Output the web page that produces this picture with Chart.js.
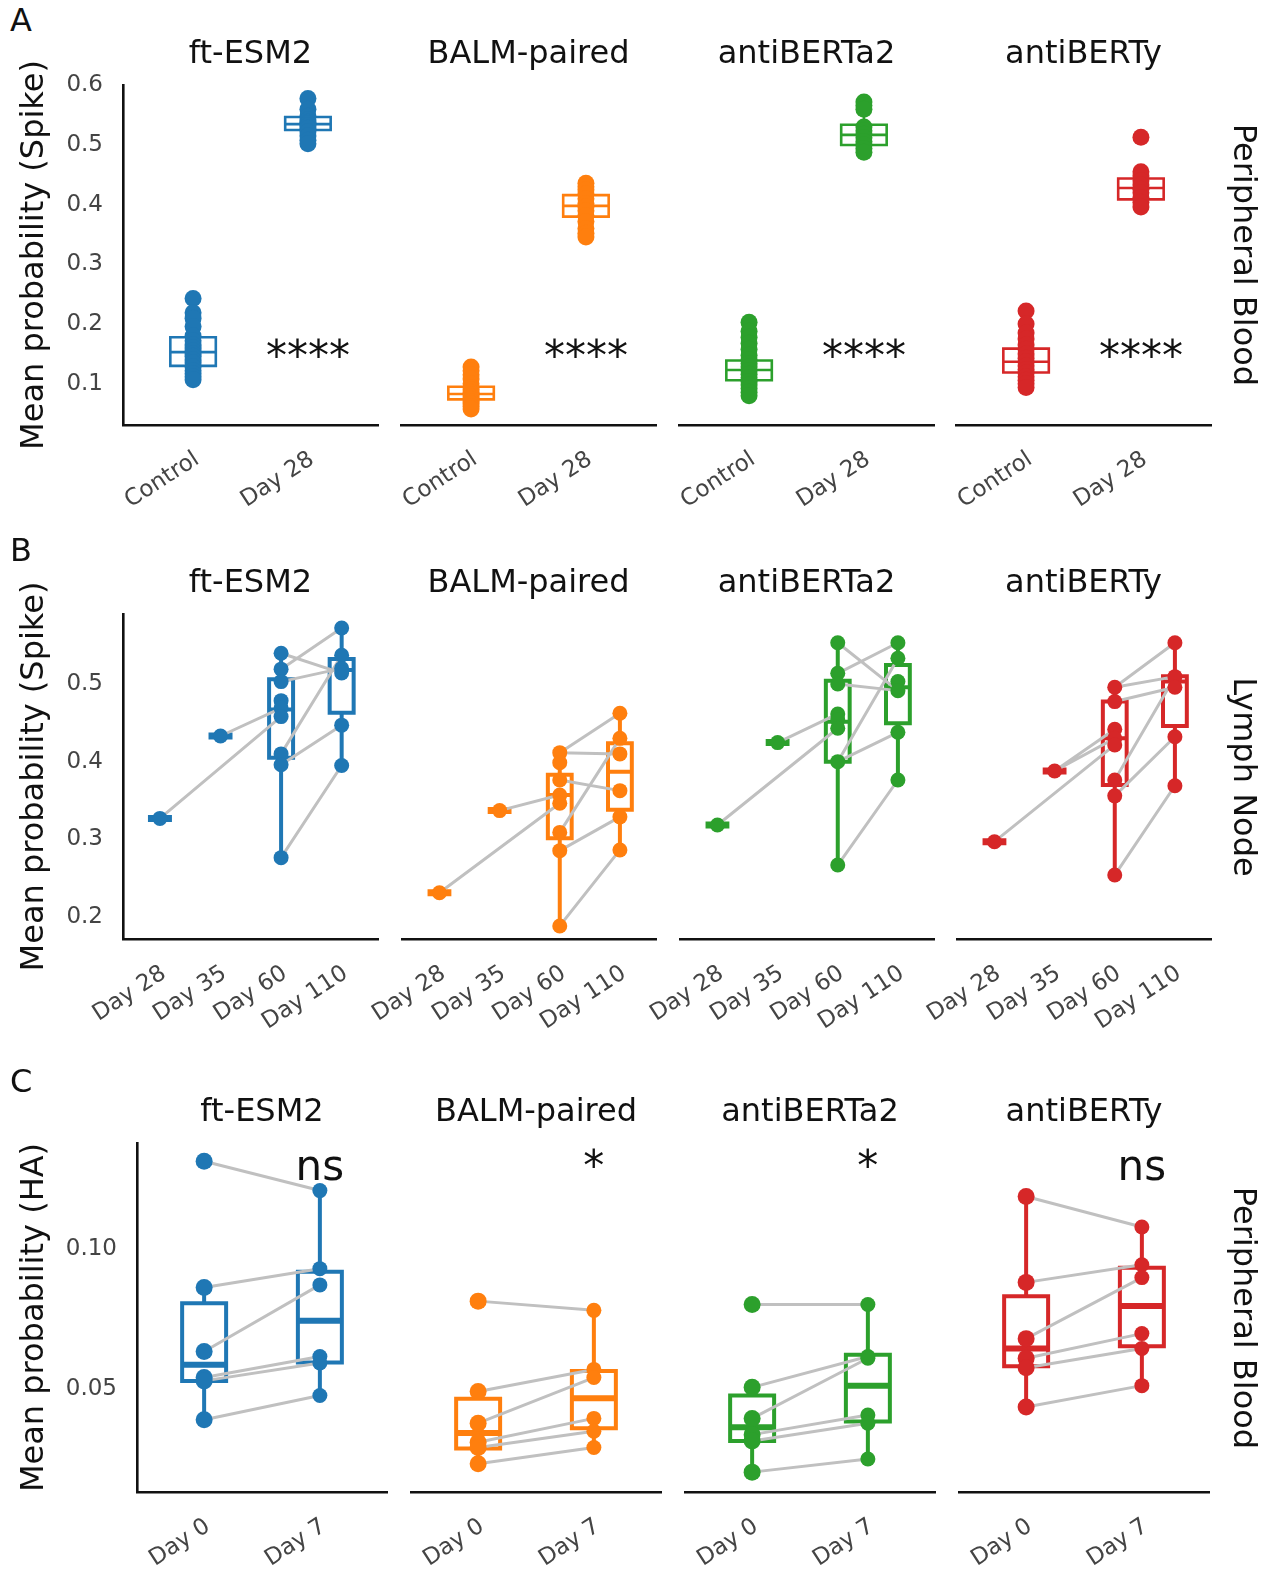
<!DOCTYPE html>
<html>
<head>
<meta charset="utf-8">
<script src="https://cdn.jsdelivr.net/npm/chart.js@4.4.1/dist/chart.umd.min.js"></script>
<style>
html,body{margin:0;padding:0;background:#fff;}
#root{position:relative;width:1277px;height:1570px;overflow:hidden;font-family:"DejaVu Sans","Liberation Sans",sans-serif;}
#root canvas{position:absolute;}
.t{position:absolute;font-size:32px;line-height:32px;color:#111;white-space:nowrap;text-align:center;z-index:5;}
</style>
</head>
<body>
<div id="root"></div>
<script>
// ================= DATA =================
const models = ['ft-ESM2', 'BALM-paired', 'antiBERTa2', 'antiBERTy'];
const modelColors = ['#1f77b4', '#ff7f0e', '#2ca02c', '#d62728'];

const catsA = ['Control', 'Day 28'];
const catsB = ['Day 28', 'Day 35', 'Day 60', 'Day 110'];
const catsC = ['Day 0', 'Day 7'];

const yTicksA = [0.1, 0.2, 0.3, 0.4, 0.5, 0.6];
const yTickLabelsA = ['0.1', '0.2', '0.3', '0.4', '0.5', '0.6'];
const yTicksB = [0.2, 0.3, 0.4, 0.5];
const yTickLabelsB = ['0.2', '0.3', '0.4', '0.5'];
const yTicksC = [0.05, 0.10];
const yTickLabelsC = ['0.05', '0.10'];

const sigA = ['****', '****', '****', '****'];
const sigC = ['ns', '*', '*', 'ns'];

// ---- Panel A: Peripheral Blood (Spike) ----
const A_ftESM2_Control = [0.243, 0.219, 0.210, 0.196, 0.180, 0.172, 0.165, 0.160, 0.155, 0.150, 0.146, 0.140, 0.135, 0.128, 0.122, 0.117, 0.112, 0.107];
const A_ftESM2_Day28 = [0.578, 0.560, 0.548, 0.542, 0.538, 0.535, 0.532, 0.528, 0.522, 0.515, 0.508, 0.502];
const A_BALM_Control = [0.128, 0.122, 0.115, 0.108, 0.100, 0.094, 0.090, 0.086, 0.082, 0.078, 0.074, 0.070, 0.066, 0.062, 0.058];
const A_BALM_Day28 = [0.436, 0.430, 0.425, 0.418, 0.410, 0.402, 0.396, 0.390, 0.382, 0.372, 0.360, 0.352, 0.346];
const A_antiBERTa2_Control = [0.203, 0.188, 0.178, 0.168, 0.158, 0.148, 0.140, 0.134, 0.128, 0.122, 0.116, 0.110, 0.104, 0.098, 0.092, 0.086, 0.080];
const A_antiBERTa2_Day28 = [0.572, 0.566, 0.560, 0.530, 0.524, 0.518, 0.512, 0.506, 0.500, 0.494, 0.488];
const A_antiBERTy_Control = [0.222, 0.200, 0.185, 0.175, 0.165, 0.158, 0.150, 0.143, 0.137, 0.130, 0.124, 0.118, 0.112, 0.106, 0.100, 0.094];
const A_antiBERTy_Day28 = [0.513, 0.455, 0.448, 0.440, 0.433, 0.426, 0.420, 0.412, 0.404, 0.396];
// box stats per category: [whiskerLow, q1, median, q3, whiskerHigh]
const A_ftESM2_box = [[0.107, 0.130, 0.153, 0.178, 0.196], [0.502, 0.525, 0.535, 0.547, 0.560]];
const A_BALM_box = [[0.058, 0.074, 0.083, 0.095, 0.115], [0.346, 0.380, 0.398, 0.416, 0.436]];
const A_antiBERTa2_box = [[0.080, 0.106, 0.123, 0.139, 0.168], [0.488, 0.500, 0.517, 0.534, 0.566]];
const A_antiBERTy_box = [[0.094, 0.119, 0.137, 0.159, 0.200], [0.396, 0.409, 0.428, 0.444, 0.455]];

// ---- Panel B: Lymph Node (Spike) ----
const B_ftESM2_Day28 = [0.327];
const B_ftESM2_Day35 = [0.433];
const B_ftESM2_Day60 = [0.5395, 0.519, 0.503, 0.4785, 0.469, 0.458, 0.410, 0.396, 0.2765];
const B_ftESM2_Day110 = [0.572, 0.537, 0.520, 0.514, 0.447, 0.395];
const B_BALM_Day28 = [0.2314];
const B_BALM_Day35 = [0.337];
const B_BALM_Day60 = [0.4116, 0.3987, 0.3764, 0.357, 0.3465, 0.309, 0.2855, 0.1886];
const B_BALM_Day110 = [0.4623, 0.430, 0.410, 0.3627, 0.329, 0.2864];
const B_antiBERTa2_Day28 = [0.3185];
const B_antiBERTa2_Day35 = [0.4245];
const B_antiBERTa2_Day60 = [0.553, 0.5137, 0.500, 0.4614, 0.4537, 0.443, 0.400, 0.267];
const B_antiBERTa2_Day110 = [0.553, 0.533, 0.503, 0.4914, 0.4378, 0.3764];
const B_antiBERTy_Day28 = [0.297];
const B_antiBERTy_Day35 = [0.388];
const B_antiBERTy_Day60 = [0.4957, 0.4773, 0.4417, 0.430, 0.4215, 0.3764, 0.356, 0.2541];
const B_antiBERTy_Day110 = [0.553, 0.5094, 0.4957, 0.432, 0.369];
const B_ftESM2_box = [[0.327, 0.327, 0.327, 0.327, 0.327], [0.433, 0.433, 0.433, 0.433, 0.433], [0.2765, 0.405, 0.467, 0.506, 0.5395], [0.395, 0.463, 0.518, 0.532, 0.572]];
const B_BALM_box = [[0.2314, 0.2314, 0.2314, 0.2314, 0.2314], [0.337, 0.337, 0.337, 0.337, 0.337], [0.1886, 0.3014, 0.357, 0.383, 0.4116], [0.2864, 0.338, 0.387, 0.4237, 0.4623]];
const B_antiBERTa2_box = [[0.3185, 0.3185, 0.3185, 0.3185, 0.3185], [0.4245, 0.4245, 0.4245, 0.4245, 0.4245], [0.267, 0.400, 0.4515, 0.504, 0.553], [0.3764, 0.4494, 0.4957, 0.5245, 0.553]];
const B_antiBERTy_box = [[0.297, 0.297, 0.297, 0.297, 0.297], [0.388, 0.388, 0.388, 0.388, 0.388], [0.2541, 0.370, 0.430, 0.4773, 0.4957], [0.369, 0.446, 0.503, 0.510, 0.553]];
// paired subject lines: [fromCategory, fromValue, toCategory, toValue]
const B_ftESM2_pairs = [[0, 0.327, 2, 0.458], [1, 0.433, 2, 0.469], [2, 0.519, 3, 0.572], [2, 0.5395, 3, 0.514], [2, 0.503, 3, 0.520], [2, 0.410, 3, 0.537], [2, 0.396, 3, 0.447], [2, 0.2765, 3, 0.395]];
const B_BALM_pairs = [[0, 0.2314, 2, 0.3465], [1, 0.337, 2, 0.357], [2, 0.4116, 3, 0.4623], [2, 0.4116, 3, 0.410], [2, 0.3764, 3, 0.3627], [2, 0.309, 3, 0.430], [2, 0.2855, 3, 0.329], [2, 0.1886, 3, 0.2864]];
const B_antiBERTa2_pairs = [[0, 0.3185, 2, 0.443], [1, 0.4245, 2, 0.4614], [2, 0.553, 3, 0.4914], [2, 0.5137, 3, 0.553], [2, 0.500, 3, 0.4914], [2, 0.400, 3, 0.533], [2, 0.400, 3, 0.4378], [2, 0.267, 3, 0.3764]];
const B_antiBERTy_pairs = [[0, 0.297, 2, 0.4215], [1, 0.388, 2, 0.4417], [1, 0.388, 2, 0.430], [2, 0.4957, 3, 0.553], [2, 0.4957, 3, 0.5094], [2, 0.4773, 3, 0.4957], [2, 0.3764, 3, 0.5094], [2, 0.356, 3, 0.432], [2, 0.2541, 3, 0.369]];

// ---- Panel C: Peripheral Blood (HA) ----
const C_ftESM2_Day0 = [0.1314, 0.0863, 0.0634, 0.0541, 0.0529, 0.0390];
const C_ftESM2_Day7 = [0.1209, 0.0930, 0.0872, 0.0616, 0.0593, 0.0477];
const C_BALM_Day0 = [0.0814, 0.0491, 0.0378, 0.0310, 0.0291, 0.0233];
const C_BALM_Day7 = [0.0781, 0.0570, 0.0541, 0.0395, 0.0349, 0.0291];
const C_antiBERTa2_Day0 = [0.0802, 0.0506, 0.0395, 0.0337, 0.0314, 0.0203];
const C_antiBERTa2_Day7 = [0.0802, 0.0616, 0.0610, 0.0407, 0.0378, 0.0250];
const C_antiBERTy_Day0 = [0.1188, 0.0881, 0.0680, 0.0610, 0.0576, 0.0436];
const C_antiBERTy_Day7 = [0.1079, 0.0944, 0.0898, 0.0698, 0.0645, 0.0512];
const C_ftESM2_box = [[0.0390, 0.0529, 0.0587, 0.0806, 0.0863], [0.0477, 0.0595, 0.0744, 0.0919, 0.1209]];
const C_BALM_box = [[0.0233, 0.0287, 0.0343, 0.0465, 0.0491], [0.0291, 0.0360, 0.0467, 0.0564, 0.0781]];
const C_antiBERTa2_box = [[0.0203, 0.0314, 0.0363, 0.0477, 0.0506], [0.0250, 0.0384, 0.0512, 0.0622, 0.0802]];
const C_antiBERTy_box = [[0.0436, 0.0581, 0.0645, 0.0831, 0.1188], [0.0512, 0.0653, 0.0797, 0.0933, 0.1079]];
const C_ftESM2_pairs = [[0, 0.1314, 1, 0.1209], [0, 0.0863, 1, 0.0930], [0, 0.0634, 1, 0.0872], [0, 0.0541, 1, 0.0616], [0, 0.0529, 1, 0.0593], [0, 0.0390, 1, 0.0477]];
const C_BALM_pairs = [[0, 0.0814, 1, 0.0781], [0, 0.0491, 1, 0.0570], [0, 0.0378, 1, 0.0541], [0, 0.0310, 1, 0.0395], [0, 0.0291, 1, 0.0349], [0, 0.0233, 1, 0.0291]];
const C_antiBERTa2_pairs = [[0, 0.0802, 1, 0.0802], [0, 0.0506, 1, 0.0616], [0, 0.0395, 1, 0.0610], [0, 0.0337, 1, 0.0407], [0, 0.0314, 1, 0.0378], [0, 0.0203, 1, 0.0250]];
const C_antiBERTy_pairs = [[0, 0.1188, 1, 0.1079], [0, 0.0881, 1, 0.0944], [0, 0.0680, 1, 0.0898], [0, 0.0610, 1, 0.0698], [0, 0.0576, 1, 0.0645], [0, 0.0436, 1, 0.0512]];

// ================= LAYOUT / STYLE =================
const FONT = '"DejaVu Sans", "Liberation Sans", sans-serif';
const PAIR_COLOR = '#c0c0c0';
const TITLE_SIZE = 32;
const TICK_SIZE = 23;
const BASE_OFF = 27.07; // baseline offset of a 32px DejaVu line box

const rowDefs = [
  { key: 'A', letter: 'A', letterBase: 31, titleBase: 63, sideLabel: 'Peripheral Blood',
    top: 85, bottom: 425, lefts: [123, 401, 679, 956], width: 255,
    xmin: -0.61, xmax: 1.61, ymin: 0.031, ymax: 0.6005,
    cats: catsA, yTicks: yTicksA, yTickLabels: yTickLabelsA, yTitle: 'Mean probability (Spike)',
    radius: [8.5, 8.5], boxHalf: 0.198, boxLW: 2.6, medLW: 2.6, whLW: 2.6, flatLW: 2.6,
    pts: [[A_ftESM2_Control, A_ftESM2_Day28], [A_BALM_Control, A_BALM_Day28], [A_antiBERTa2_Control, A_antiBERTa2_Day28], [A_antiBERTy_Control, A_antiBERTy_Day28]],
    boxes: [A_ftESM2_box, A_BALM_box, A_antiBERTa2_box, A_antiBERTy_box],
    pairs: [null, null, null, null],
    sig: sigA, sigX: 1, sigY: 0.123 },
  { key: 'B', letter: 'B', letterBase: 561, titleBase: 592, sideLabel: 'Lymph Node',
    top: 614, bottom: 939, lefts: [123, 401, 679, 956], width: 255,
    xmin: -0.61, xmax: 3.6, ymin: 0.1718, ymax: 0.590,
    cats: catsB, yTicks: yTicksB, yTickLabels: yTickLabelsB, yTitle: 'Mean probability (Spike)',
    radius: [7.5, 7.5, 7.5, 7.5], boxHalf: 0.198, boxLW: 4, medLW: 4, whLW: 4, flatLW: 7,
    pts: [[B_ftESM2_Day28, B_ftESM2_Day35, B_ftESM2_Day60, B_ftESM2_Day110],
          [B_BALM_Day28, B_BALM_Day35, B_BALM_Day60, B_BALM_Day110],
          [B_antiBERTa2_Day28, B_antiBERTa2_Day35, B_antiBERTa2_Day60, B_antiBERTa2_Day110],
          [B_antiBERTy_Day28, B_antiBERTy_Day35, B_antiBERTy_Day60, B_antiBERTy_Day110]],
    boxes: [B_ftESM2_box, B_BALM_box, B_antiBERTa2_box, B_antiBERTy_box],
    pairs: [B_ftESM2_pairs, B_BALM_pairs, B_antiBERTa2_pairs, B_antiBERTy_pairs],
    sig: null },
  { key: 'C', letter: 'C', letterBase: 1092, titleBase: 1121, sideLabel: 'Peripheral Blood',
    top: 1143, bottom: 1492, lefts: [137, 411, 685, 959], width: 250,
    xmin: -0.58, xmax: 1.58, ymin: 0.0132, ymax: 0.1379,
    cats: catsC, yTicks: yTicksC, yTickLabels: yTickLabelsC, yTitle: 'Mean probability (HA)',
    radius: [8.5, 7.5], boxHalf: 0.19, boxLW: 4, medLW: 6, whLW: 4, flatLW: 6,
    pts: [[C_ftESM2_Day0, C_ftESM2_Day7], [C_BALM_Day0, C_BALM_Day7], [C_antiBERTa2_Day0, C_antiBERTa2_Day7], [C_antiBERTy_Day0, C_antiBERTy_Day7]],
    boxes: [C_ftESM2_box, C_BALM_box, C_antiBERTa2_box, C_antiBERTy_box],
    pairs: [C_ftESM2_pairs, C_BALM_pairs, C_antiBERTa2_pairs, C_antiBERTy_pairs],
    sig: sigC, sigX: 1, sigY: 0.1246 }
];

const root = document.getElementById('root');

function addText(txt, left, top, width, extraStyle) {
  const d = document.createElement('div');
  d.className = 't';
  d.textContent = txt;
  d.style.left = left + 'px';
  d.style.top = top + 'px';
  if (width != null) d.style.width = width + 'px';
  if (extraStyle) Object.assign(d.style, extraStyle);
  root.appendChild(d);
  return d;
}

const sigPlugin = {
  id: 'sig',
  afterDatasetsDraw(chart, args, opts) {
    if (!opts || !opts.text) return;
    const ctx = chart.ctx;
    const x = chart.scales.x.getPixelForValue(opts.x);
    const y = chart.scales.y.getPixelForValue(opts.y);
    ctx.save();
    ctx.font = opts.size + 'px ' + FONT;
    ctx.fillStyle = '#111';
    ctx.textAlign = 'center';
    ctx.textBaseline = 'alphabetic';
    ctx.fillText(opts.text, x, y);
    ctx.restore();
  }
};

const ML = 60, MR = 15, MT = 40, MB = 125, XH = 117, YTITLE_LEFT = 15.8;

rowDefs.forEach(row => {
  addText(row.letter, 10, row.letterBase - BASE_OFF, null, { textAlign: 'left' });
  addText(row.sideLabel, 1245 - 160, (row.top + row.bottom) / 2 - 16, 320, { transform: 'rotate(90deg)', transformOrigin: '50% 50%' });

  for (let m = 0; m < 4; m++) {
    const first = m === 0;
    const L = row.lefts[m];
    addText(models[m], L, row.titleBase - BASE_OFF, row.width);

    const cLeft = first ? 0 : L - ML;
    const cTop = row.top - MT;
    const cW = (first ? L : ML) + row.width + MR;
    const cH = MT + (row.bottom - row.top) + MB;
    const canvas = document.createElement('canvas');
    canvas.width = cW; canvas.height = cH;
    canvas.style.left = cLeft + 'px'; canvas.style.top = cTop + 'px';
    canvas.style.width = cW + 'px'; canvas.style.height = cH + 'px';
    root.appendChild(canvas);

    const col = modelColors[m];
    const h = row.boxHalf;
    const boxPts = [], whPts = [], medPts = [], flatPts = [];
    row.boxes[m].forEach((b, i) => {
      const [lo, q1, md, q3, hi] = b;
      if (q1 === q3) {
        flatPts.push({ x: i - h, y: md }, { x: i + h, y: md }, { x: i, y: null });
        return;
      }
      boxPts.push({ x: i - h, y: q1 }, { x: i + h, y: q1 }, { x: i + h, y: q3 }, { x: i - h, y: q3 }, { x: i - h, y: q1 }, { x: i, y: null });
      whPts.push({ x: i, y: lo }, { x: i, y: q1 }, { x: i, y: null }, { x: i, y: q3 }, { x: i, y: hi }, { x: i, y: null });
      medPts.push({ x: i - h, y: md }, { x: i + h, y: md }, { x: i, y: null });
    });
    const pairPts = [];
    if (row.pairs[m]) {
      row.pairs[m].forEach(p => {
        pairPts.push({ x: p[0], y: p[1] }, { x: p[2], y: p[3] }, { x: p[2], y: null });
      });
    }
    const dotPts = [];
    row.pts[m].forEach((arr, i) => arr.forEach(v => dotPts.push({ x: i, y: v })));

    const lineBase = { type: 'line', pointRadius: 0, pointHoverRadius: 0, tension: 0, spanGaps: false, fill: false, clip: false };
    const radiusFn = ctx => row.radius[Math.round(ctx.raw ? ctx.raw.x : 0)] || row.radius[0];
    const datasets = [
      Object.assign({}, lineBase, { data: whPts, borderColor: col, borderWidth: row.whLW, borderCapStyle: 'butt', order: 5 }),
      Object.assign({}, lineBase, { data: boxPts, borderColor: col, borderWidth: row.boxLW, borderCapStyle: 'square', borderJoinStyle: 'miter', order: 4 }),
      Object.assign({}, lineBase, { data: medPts, borderColor: col, borderWidth: row.medLW, borderCapStyle: 'butt', order: 3 }),
      Object.assign({}, lineBase, { data: flatPts, borderColor: col, borderWidth: row.flatLW, borderCapStyle: 'butt', order: 2 }),
      Object.assign({}, lineBase, { data: pairPts, borderColor: PAIR_COLOR, borderWidth: 3, borderCapStyle: 'round', order: 1 }),
      { type: 'scatter', data: dotPts, clip: false, order: 0,
        pointRadius: radiusFn, pointHoverRadius: radiusFn,
        pointBackgroundColor: col, pointBorderWidth: 0, pointBorderColor: col }
    ];

    const cats = row.cats;
    const yT = row.yTicks, yTL = row.yTickLabels;
    new Chart(canvas, {
      type: 'scatter',
      data: { datasets },
      options: {
        animation: false, responsive: false, maintainAspectRatio: false, devicePixelRatio: 1,
        events: [],
        layout: { padding: { left: first ? YTITLE_LEFT : ML, right: MR, top: MT, bottom: MB - XH } },
        plugins: {
          legend: { display: false }, tooltip: { enabled: false },
          sig: row.sig ? { text: row.sig[m], x: row.sigX, y: row.sigY, size: 42 } : { text: null }
        },
        scales: {
          x: {
            type: 'linear', position: 'bottom', min: row.xmin, max: row.xmax,
            grid: { display: false, drawTicks: false },
            border: { display: true, color: '#111', width: 2.6 },
            afterBuildTicks: s => { s.ticks = cats.map((c, i) => ({ value: i })); },
            afterFit: s => { s.height = XH; },
            ticks: { autoSkip: false, minRotation: 33, maxRotation: 33, padding: 21, labelOffset: 4, color: '#444',
                     font: { family: FONT, size: TICK_SIZE }, callback: (v, i) => cats[i] }
          },
          y: {
            type: 'linear', position: 'left', min: row.ymin, max: row.ymax, display: first,
            grid: { display: false, drawTicks: false },
            border: { display: true, color: '#111', width: 2.6 },
            afterBuildTicks: s => { s.ticks = yT.map(v => ({ value: v })); },
            afterFit: s => { if (first) s.width = L - YTITLE_LEFT; },
            ticks: { padding: 20, color: '#444', font: { family: FONT, size: TICK_SIZE }, callback: (v, i) => yTL[i] },
            title: { display: true, text: row.yTitle, color: '#111', padding: 0, font: { family: FONT, size: TITLE_SIZE } }
          }
        }
      },
      plugins: [sigPlugin]
    });
  }
});
</script>
</body>
</html>
